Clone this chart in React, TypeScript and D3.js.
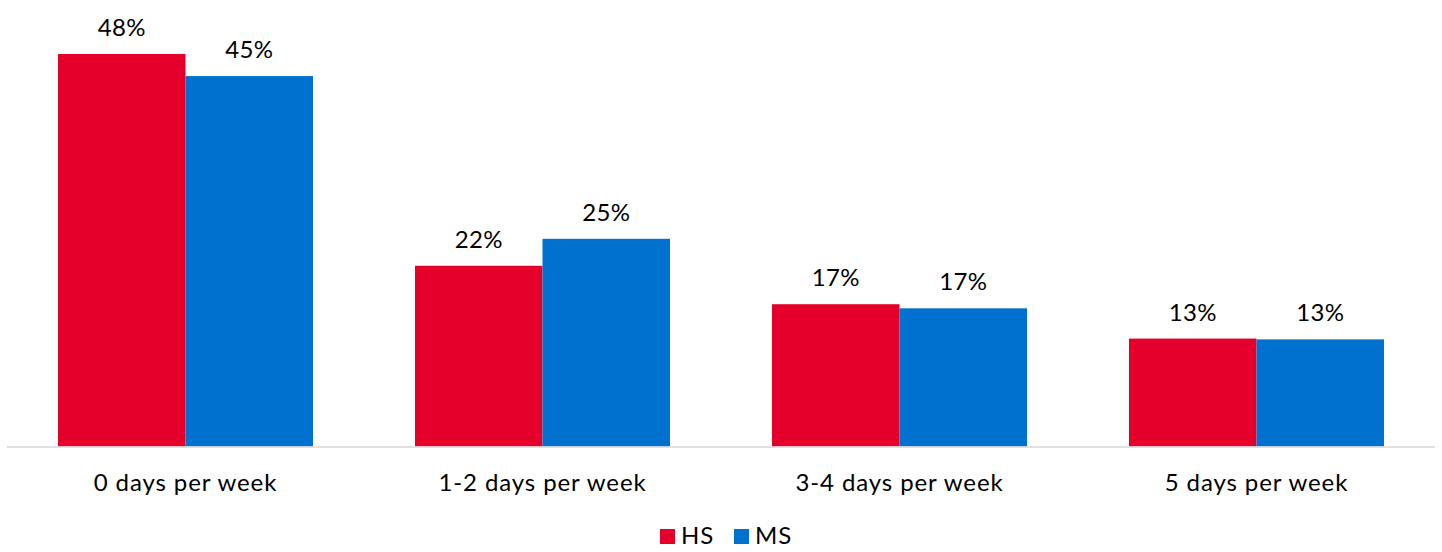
import React from "react";
import * as d3 from "d3";

const categories = ["0 days per week", "1-2 days per week", "3-4 days per week", "5 days per week"];
const seriesNames = ["HS", "MS"];
const hsValues = [48.0, 22.1, 17.4, 13.2];
const msValues = [45.3, 25.4, 16.9, 13.1];
const colors = ["#E4002B", "#0071CE"];

const W = 1442;
const H = 552;
const FONT = "Lato, 'Open Sans', sans-serif";

export default function App() {
  const x0 = d3.scaleBand<string>().domain(categories).range([7, 1435]).paddingInner(0.2857).paddingOuter(0.14285);
  const x1 = d3.scaleBand<string>().domain(seriesNames).range([0, x0.bandwidth()]);
  const y = d3.scaleLinear().domain([0, 48]).range([446.5, 54]);
  const series = [hsValues, msValues];

  return (
    <svg width={W} height={H} style={{ position: "absolute", left: 0, top: 0, background: "#fff" }}>
      {categories.map((c, i) => (
        <g key={c} transform={`translate(${x0(c)},0)`}>
          {seriesNames.map((s, j) => {
            const v = series[j][i];
            const bx = x1(s)!;
            return (
              <g key={s}>
                <rect x={bx} y={y(v)} width={x1.bandwidth()} height={y(0) - y(v)} fill={colors[j]} />
                <text
                  x={bx + x1.bandwidth() / 2}
                  y={y(v) - 18}
                  textAnchor="middle"
                  fontFamily={FONT}
                  fontSize={24}
                  letterSpacing={0.3}
                  fill="#000"
                >
                  {Math.round(v)}%
                </text>
              </g>
            );
          })}
          <text x={x0.bandwidth() / 2} y={491} textAnchor="middle" fontFamily={FONT} fontSize={24} letterSpacing={0.9} fill="#000">
            {c}
          </text>
        </g>
      ))}
      <line x1={7} x2={1435} y1={447} y2={447} stroke="#D9D9D9" strokeWidth={1.5} />
      <g>
        {seriesNames.map((s, j) => {
          const lx = [660, 734][j];
          return (
            <g key={s}>
              <rect x={lx} y={529} width={15} height={15} fill={colors[j]} />
              <text x={lx + 21} y={544} fontFamily={FONT} fontSize={24} letterSpacing={1} fill="#000">
                {s}
              </text>
            </g>
          );
        })}
      </g>
    </svg>
  );
}
